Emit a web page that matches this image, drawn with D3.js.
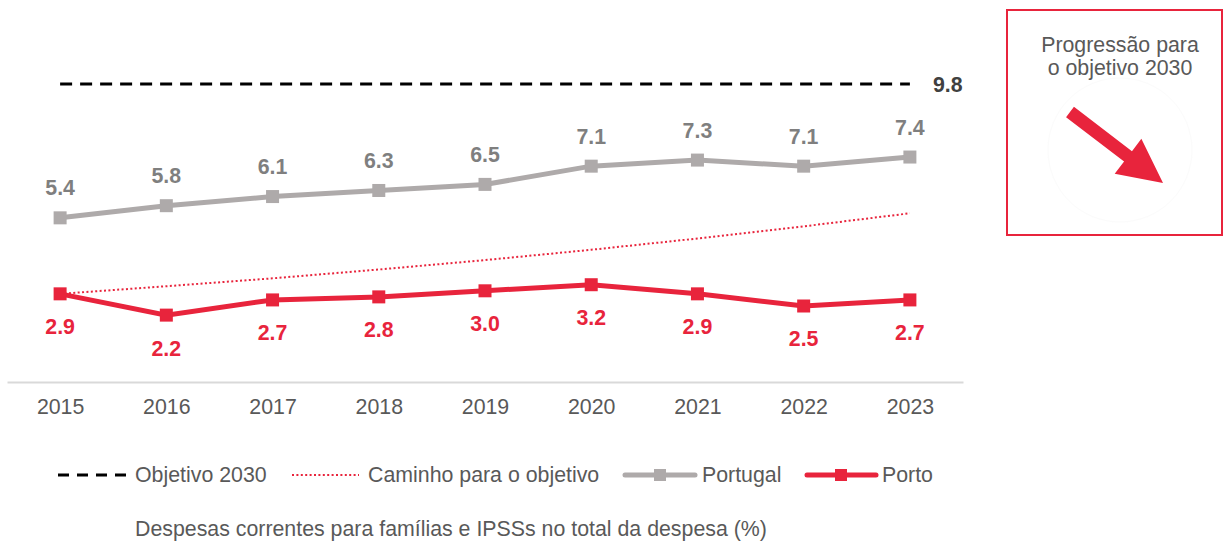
<!DOCTYPE html>
<html><head><meta charset="utf-8">
<script src="https://cdn.jsdelivr.net/npm/d3@7"></script>
<style>
html,body{margin:0;padding:0;background:#fff;}
text{font-family:"Liberation Sans",Arial,sans-serif;}
</style></head>
<body><svg id="c" width="1224" height="542"></svg>
<script>
const years = ["2015","2016","2017","2018","2019","2020","2021","2022","2023"];
const portugal = [5.4,5.8,6.1,6.3,6.5,7.1,7.3,7.1,7.4];
const porto = [2.9,2.2,2.7,2.8,3.0,3.2,2.9,2.5,2.7];
const caminho = [2.90,3.15,3.41,3.70,4.01,4.35,4.72,5.12,5.55];
const objetivo = 9.8;
const legendLabels = ["Objetivo 2030","Caminho para o objetivo","Portugal","Porto"];
const title = "Despesas correntes para famílias e IPSSs no total da despesa (%)";
const boxLines = ["Progressão para","o objetivo 2030"];

const RED = "#e8243c", GREY = "#aeaaaa", GREYTXT = "#7f7f7f", DARK = "#595959";
const FS = 21.33;
const svg = d3.select("#c");

const x = d3.scalePoint().domain(years).range([7, 963]).padding(0.5);
const y = d3.scaleLinear().domain([0, 10]).range([382, 78]);

// axis
const ax = svg.append("g").attr("transform","translate(0,382)")
  .call(d3.axisBottom(x).tickSize(0).tickPadding(17));
ax.select(".domain").attr("stroke","#d9d9d9").attr("stroke-width",2);
ax.selectAll("text").attr("font-size",FS).attr("fill",DARK).style("font-family","'Liberation Sans',Arial,sans-serif");

// objective line
svg.append("line")
  .attr("x1", x(years[0])).attr("x2", x(years[years.length-1]))
  .attr("y1", y(objetivo)).attr("y2", y(objetivo))
  .attr("stroke","#000").attr("stroke-width",3).attr("stroke-dasharray","12,8");
svg.append("text").attr("x", 933).attr("y", y(objetivo)).attr("dy","0.35em")
  .attr("font-size",FS).attr("font-weight","bold").attr("fill","#404040").text(objetivo.toFixed(1));

const line = d3.line().x((d,i)=>x(years[i])).y(d=>y(d));

// caminho
svg.append("path").datum(caminho).attr("d", line).attr("fill","none")
  .attr("stroke",RED).attr("stroke-width",2).attr("stroke-dasharray","2,2.4");

// Portugal
svg.append("path").datum(portugal).attr("d", line).attr("fill","none")
  .attr("stroke",GREY).attr("stroke-width",5);
svg.selectAll(".mpt").data(portugal).enter().append("rect")
  .attr("x",(d,i)=>x(years[i])-6.5).attr("y",d=>y(d)-6.5).attr("width",13).attr("height",13).attr("fill",GREY);
svg.selectAll(".lpt").data(portugal).enter().append("text")
  .attr("x",(d,i)=>x(years[i])).attr("y",d=>y(d)-30).attr("dy","0.35em").attr("text-anchor","middle")
  .attr("font-size",FS).attr("font-weight","bold").attr("fill",GREYTXT).text(d=>d.toFixed(1));

// Porto
svg.append("path").datum(porto).attr("d", line).attr("fill","none")
  .attr("stroke",RED).attr("stroke-width",5);
svg.selectAll(".mpo").data(porto).enter().append("rect")
  .attr("x",(d,i)=>x(years[i])-6.5).attr("y",d=>y(d)-6.5).attr("width",13).attr("height",13).attr("fill",RED);
svg.selectAll(".lpo").data(porto).enter().append("text")
  .attr("x",(d,i)=>x(years[i])).attr("y",d=>y(d)+33).attr("dy","0.35em").attr("text-anchor","middle")
  .attr("font-size",FS).attr("font-weight","bold").attr("fill",RED).text(d=>d.toFixed(1));

// legend
const ly = 475;
const lg = svg.append("g");
lg.append("line").attr("x1",58).attr("x2",126).attr("y1",ly).attr("y2",ly)
  .attr("stroke","#000").attr("stroke-width",3).attr("stroke-dasharray","11,8");
lg.append("line").attr("x1",292).attr("x2",359).attr("y1",ly).attr("y2",ly)
  .attr("stroke",RED).attr("stroke-width",2).attr("stroke-dasharray","2,2.4");
lg.append("line").attr("x1",625).attr("x2",695).attr("y1",ly).attr("y2",ly)
  .attr("stroke",GREY).attr("stroke-width",5).attr("stroke-linecap","round");
lg.append("rect").attr("x",654).attr("y",ly-6).attr("width",12).attr("height",12).attr("fill",GREY);
lg.append("line").attr("x1",807).attr("x2",876).attr("y1",ly).attr("y2",ly)
  .attr("stroke",RED).attr("stroke-width",5).attr("stroke-linecap","round");
lg.append("rect").attr("x",835).attr("y",ly-6).attr("width",12).attr("height",12).attr("fill",RED);
const lx = [135,368,702,882];
legendLabels.forEach((t,i)=>{
  lg.append("text").attr("x",lx[i]).attr("y",ly).attr("dy","0.35em")
    .attr("font-size",FS).attr("fill",DARK).text(t);
});

// title
svg.append("text").attr("x",135).attr("y",529).attr("dy","0.35em")
  .attr("font-size",FS).attr("fill",DARK).text(title);

// right box
svg.append("rect").attr("x",1007).attr("y",10).attr("width",215).attr("height",225)
  .attr("fill","none").attr("stroke",RED).attr("stroke-width",2);
svg.append("circle").attr("cx",1120).attr("cy",150).attr("r",72).attr("fill","none").attr("stroke","#fbfbfb").attr("stroke-width",1);
boxLines.forEach((t,i)=>{
  svg.append("text").attr("x",1120).attr("y",45+i*23).attr("dy","0.35em").attr("text-anchor","middle")
    .attr("font-size",FS).attr("fill",DARK).text(t);
});
// arrow
(function(){
  const tx=1070, ty=112, hx=1163, hy=183;
  const dx=hx-tx, dy=hy-ty, L=Math.hypot(dx,dy);
  const ux=dx/L, uy=dy/L, nx=-uy, ny=ux;
  const sw=6.5, hw=22, hl=44;
  const bx=hx-ux*hl, by=hy-uy*hl;
  const pts=[[tx+nx*sw,ty+ny*sw],[bx+nx*sw,by+ny*sw],[bx+nx*hw,by+ny*hw],[hx,hy],
             [bx-nx*hw,by-ny*hw],[bx-nx*sw,by-ny*sw],[tx-nx*sw,ty-ny*sw]];
  svg.append("polygon").attr("points",pts.map(p=>p.join(",")).join(" ")).attr("fill",RED);
})();
</script></body></html>
